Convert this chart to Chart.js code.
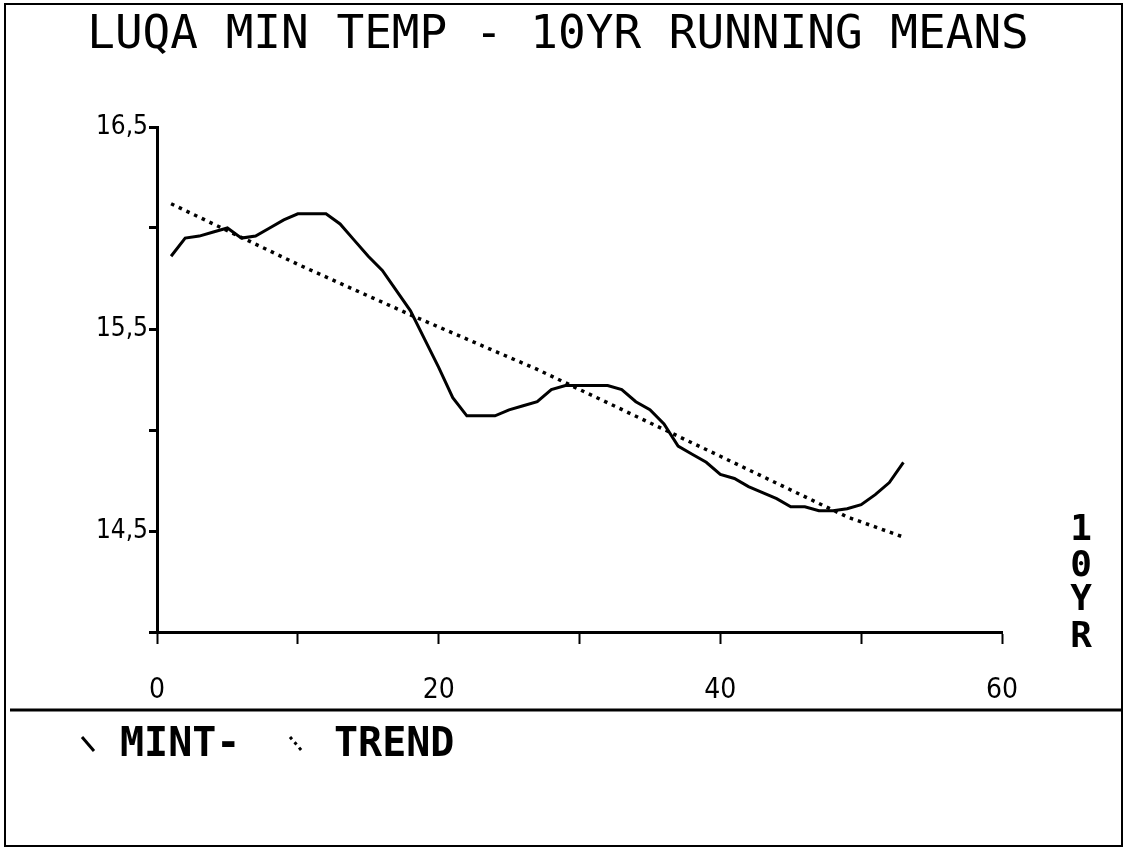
<!DOCTYPE html>
<html>
<head>
<meta charset="utf-8">
<title>LUQA MIN TEMP</title>
<script src="https://cdn.jsdelivr.net/npm/chart.js@4/dist/chart.umd.min.js"></script>
<style>
html, body { margin: 0; padding: 0; background: #fff; }
#wrap { position: relative; width: 1129px; height: 848px; }
</style>
</head>
<body>
<div id="wrap"><canvas id="chart"></canvas></div>
<script>
// 10 year running means of the Luqa minimum temperature
var years = [1, 2, 3, 4, 5, 6, 7, 8, 9, 10,
             11, 12, 13, 14, 15, 16, 17, 18, 19, 20,
             21, 22, 23, 24, 25, 26, 27, 28, 29, 30,
             31, 32, 33, 34, 35, 36, 37, 38, 39, 40,
             41, 42, 43, 44, 45, 46, 47, 48, 49, 50,
             51, 52, 53];
var mint = [15.86, 15.95, 15.96, 15.98, 16.00, 15.95, 15.96, 16.00, 16.04, 16.07,
            16.07, 16.07, 16.02, 15.94, 15.86, 15.79, 15.69, 15.59, 15.45, 15.31,
            15.16, 15.07, 15.07, 15.07, 15.10, 15.12, 15.14, 15.20, 15.22, 15.22,
            15.22, 15.22, 15.20, 15.14, 15.10, 15.03, 14.92, 14.88, 14.84, 14.78,
            14.76, 14.72, 14.69, 14.66, 14.62, 14.62, 14.60, 14.60, 14.61, 14.63,
            14.68, 14.74, 14.84];

// fitted trend line
var trendYears = [1, 10, 18, 27, 40, 49, 53];
var trend = [16.12, 15.82, 15.57, 15.30, 14.87, 14.57, 14.47];

var yLabelled = [16.5, 15.5, 14.5];
var xLabelled = [0, 20, 40, 60];

var titleText = 'LUQA MIN TEMP - 10YR RUNNING MEANS';

function pairs(xs, ys) {
  var out = [];
  for (var i = 0; i < xs.length; i++) out.push({x: xs[i], y: ys[i]});
  return out;
}

var narrow = '"Liberation Sans Narrow", "DejaVu Sans Condensed", sans-serif';
var mono = '"DejaVu Sans Mono", monospace';

// title, frame, separator, legend and the 10YR tag
var printout = {
  id: 'printout',
  afterDraw: function(chart) {
    var ctx = chart.ctx;
    ctx.save();
    ctx.strokeStyle = '#000';
    ctx.fillStyle = '#000';

    ctx.font = '46px ' + mono;
    ctx.textAlign = 'center';
    ctx.textBaseline = 'alphabetic';
    ctx.fillText(titleText, 558, 48);

    ctx.lineWidth = 2;
    ctx.strokeRect(5, 4, 1117, 842);
    ctx.lineWidth = 3;
    ctx.beginPath();
    ctx.moveTo(10, 710);
    ctx.lineTo(1122, 710);
    ctx.stroke();

    // legend markers
    ctx.lineWidth = 3;
    ctx.beginPath();
    ctx.moveTo(82, 737);
    ctx.lineTo(94, 751);
    ctx.stroke();
    ctx.setLineDash([3, 4]);
    ctx.beginPath();
    ctx.moveTo(290, 737);
    ctx.lineTo(302, 751);
    ctx.stroke();
    ctx.setLineDash([]);

    ctx.font = 'bold 40px ' + mono;
    ctx.textBaseline = 'middle';
    ctx.textAlign = 'left';
    ctx.fillText('MINT-', 120, 746);
    ctx.fillText('TREND', 334, 746);

    // stacked 10YR
    ctx.font = 'bold 36px ' + mono;
    ctx.textAlign = 'center';
    var tag = ['1', '0', 'Y', 'R'];
    var ty = [531, 567, 601, 638];
    for (var i = 0; i < tag.length; i++) ctx.fillText(tag[i], 1081, ty[i]);
    ctx.restore();
  }
};

new Chart(document.getElementById('chart'), {
  type: 'line',
  data: {
    datasets: [{
      label: 'MINT',
      data: pairs(years, mint),
      borderColor: '#000',
      borderWidth: 3,
      pointRadius: 0,
      tension: 0,
      fill: false
    }, {
      label: 'TREND',
      data: pairs(trendYears, trend),
      borderColor: '#000',
      borderWidth: 3.5,
      borderDash: [3.5, 5],
      borderCapStyle: 'butt',
      pointRadius: 0,
      tension: 0,
      fill: false
    }]
  },
  options: {
    responsive: true,
    maintainAspectRatio: false,
    animation: false,
    layout: { padding: { left: 0, right: 127, top: 127, bottom: 116 } },
    plugins: {
      legend: { display: false },
      tooltip: { enabled: false },
      title: { display: false }
    },
    scales: {
      x: {
        type: 'linear',
        min: 0,
        max: 60,
        afterFit: function(scale) { scale.height = 100; },
        border: { display: true, color: '#000', width: 3 },
        grid: { drawOnChartArea: false, drawTicks: true, tickLength: 12, tickWidth: 2, color: '#000' },
        ticks: {
          stepSize: 10,
          color: '#000',
          padding: 30,
          maxRotation: 0,
          autoSkip: false,
          font: { family: narrow, size: 28 },
          callback: function(v) { return xLabelled.indexOf(v) >= 0 ? String(v) : ''; }
        }
      },
      y: {
        min: 14,
        max: 16.5,
        afterFit: function(scale) { scale.width = 157; },
        border: { display: true, color: '#000', width: 3 },
        grid: { drawOnChartArea: false, drawTicks: true, tickLength: 8, tickWidth: 3, color: '#000' },
        ticks: {
          stepSize: 0.5,
          color: '#000',
          padding: 1,
          autoSkip: false,
          font: { family: narrow, size: 26 },
          callback: function(v) {
            return yLabelled.indexOf(v) >= 0 ? v.toFixed(1).replace('.', ',') : '';
          }
        }
      }
    }
  },
  plugins: [printout]
});
</script>
</body>
</html>
